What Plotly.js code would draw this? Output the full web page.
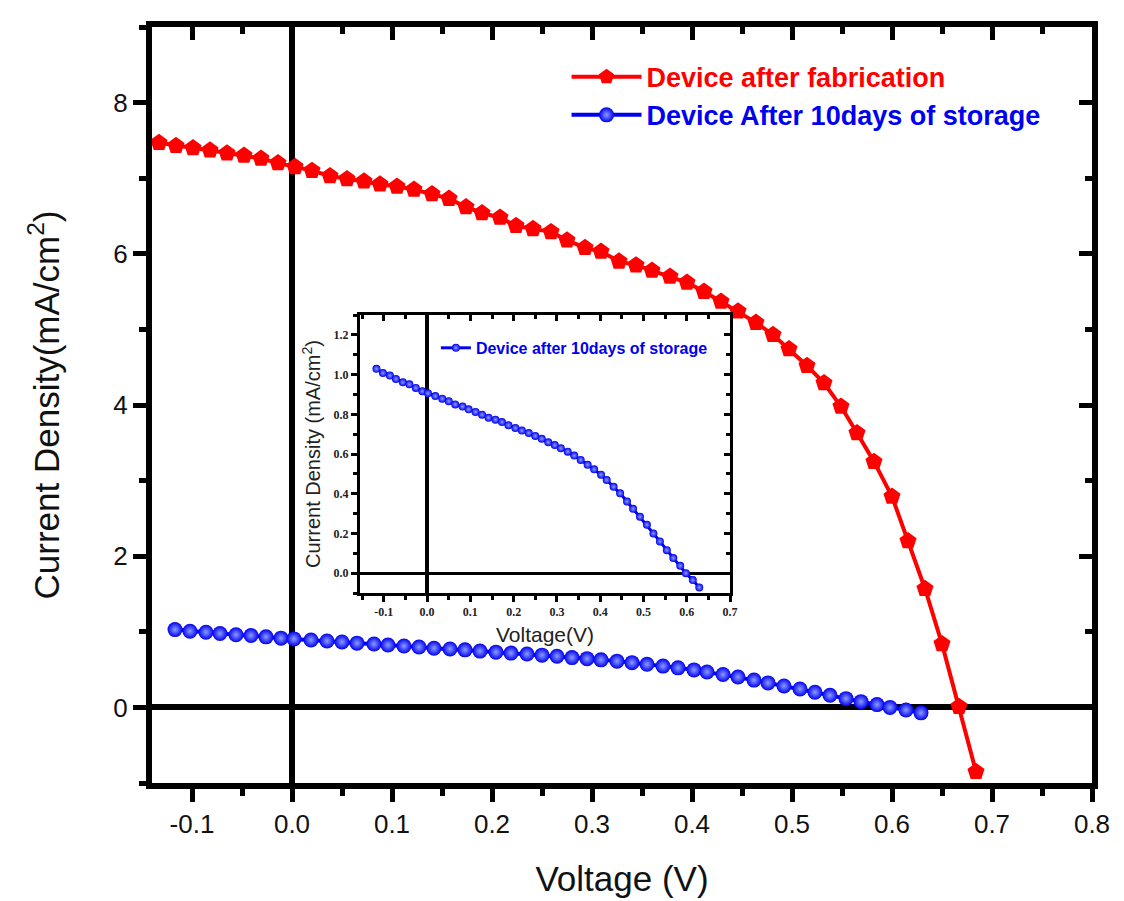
<!DOCTYPE html>
<html>
<head>
<meta charset="utf-8">
<script src="https://cdn.plot.ly/plotly-3.0.1.min.js"></script>
<style>html,body{margin:0;padding:0;background:#fff;}#chart{width:1124px;height:901px;}</style>
</head>
<body>
<div id="chart"></div>
<script>
// Device after fabrication (main plot, red pentagons)
const freshVoltage = [-0.133,-0.116,-0.099,-0.082,-0.065,-0.048,-0.031,-0.014,0.003,0.020,
  0.038,0.055,0.072,0.088,0.105,0.122,0.140,0.157,0.174,0.190,
  0.208,0.224,0.241,0.259,0.275,0.293,0.309,0.327,0.344,0.360,
  0.378,0.395,0.412,0.429,0.446,0.464,0.481,0.497,0.515,0.532,
  0.549,0.565,0.582,0.600,0.616,0.633,0.650,0.667,0.684];
const freshCurrent = [7.47,7.43,7.40,7.37,7.33,7.30,7.26,7.20,7.15,7.10,
  7.03,6.99,6.96,6.92,6.89,6.85,6.79,6.73,6.62,6.54,
  6.48,6.37,6.33,6.29,6.18,6.08,6.03,5.90,5.85,5.78,
  5.70,5.62,5.50,5.37,5.24,5.09,4.93,4.74,4.52,4.29,
  3.98,3.63,3.25,2.79,2.20,1.57,0.84,0.01,-0.85];

// Device after 10 days of storage (blue spheres, main plot and inset)
const storedVoltage = [-0.117,-0.102,-0.086,-0.072,-0.056,-0.041,-0.026,-0.011,0.002,0.019,
  0.035,0.050,0.065,0.082,0.096,0.112,0.127,0.142,0.158,0.173,
  0.188,0.204,0.219,0.235,0.250,0.265,0.280,0.295,0.309,0.325,
  0.340,0.355,0.371,0.386,0.402,0.415,0.431,0.446,0.462,0.476,
  0.492,0.508,0.523,0.538,0.554,0.569,0.585,0.598,0.614,0.629];
const storedCurrent = [1.029,1.008,0.995,0.978,0.961,0.951,0.933,0.916,0.906,0.892,
  0.879,0.866,0.850,0.839,0.825,0.812,0.798,0.783,0.773,0.761,
  0.745,0.731,0.718,0.706,0.691,0.677,0.659,0.645,0.629,0.612,
  0.592,0.570,0.546,0.523,0.496,0.469,0.435,0.402,0.361,0.324,
  0.284,0.244,0.200,0.160,0.116,0.076,0.037,0.000,-0.035,-0.072];

const seriesNames = ['Device after fabrication', 'Device After 10days of storage', 'Device after 10days of storage'];
const mainXTicks = [-0.1,0.0,0.1,0.2,0.3,0.4,0.5,0.6,0.7,0.8];
const mainXLabels = ['-0.1','0.0','0.1','0.2','0.3','0.4','0.5','0.6','0.7','0.8'];
const mainYTicks = [0,2,4,6,8];
const mainYLabels = ['0','2','4','6','8'];
const insetXTicks = [-0.1,0.0,0.1,0.2,0.3,0.4,0.5,0.6,0.7];
const insetXLabels = ['-0.1','0.0','0.1','0.2','0.3','0.4','0.5','0.6','0.7'];
const insetYTicks = [0.0,0.2,0.4,0.6,0.8,1.0,1.2];
const insetYLabels = ['0.0','0.2','0.4','0.6','0.8','1.0','1.2'];

const RED = '#ff0000', BLUE = '#0000f0';
const SANS = 'Liberation Sans, Arial, sans-serif';
const SERIF = 'Liberation Serif, Times New Roman, serif';

const traces = [
  {x: freshVoltage, y: freshCurrent, type:'scatter', mode:'lines+markers',
   name:'<span style="color:'+RED+'">'+seriesNames[0]+'</span>',
   line:{color:RED, width:4},
   marker:{symbol:'pentagon', size:18, color:RED, line:{width:0}},
   xaxis:'x', yaxis:'y', legend:'legend', hoverinfo:'x+y'},
  {x: storedVoltage, y: storedCurrent, type:'scatter', mode:'lines+markers',
   name:'<span style="color:'+BLUE+'">'+seriesNames[1]+'</span>',
   line:{color:BLUE, width:4},
   marker:{symbol:'circle', size:15, color:BLUE, line:{width:0},
           gradient:{type:'radial', color:'#8c9cff'}},
   xaxis:'x', yaxis:'y', legend:'legend', hoverinfo:'x+y'},
  {x: storedVoltage, y: storedCurrent, type:'scatter', mode:'lines+markers',
   name: seriesNames[2],
   line:{color:BLUE, width:3},
   marker:{symbol:'circle', size:8, color:BLUE, line:{width:0},
           gradient:{type:'radial', color:'#8c9cff'}},
   xaxis:'x3', yaxis:'y3', legend:'legend2', hoverinfo:'x+y'},
  // carriers for the mirrored (inward-tick) frame axes
  {x:[null], y:[null], type:'scatter', mode:'markers', xaxis:'x2', yaxis:'y2', showlegend:false, hoverinfo:'skip'},
  {x:[null], y:[null], type:'scatter', mode:'markers', xaxis:'x4', yaxis:'y4', showlegend:false, hoverinfo:'skip'}
];

const mainX = {range:[-0.14,0.8], tickmode:'array', tickvals: mainXTicks, ticktext: mainXLabels};
const mainY = {range:[-1,9], tickmode:'array', tickvals: mainYTicks, ticktext: mainYLabels};
const insX = {range:[-0.155,0.7], tickmode:'array', tickvals: insetXTicks, ticktext: insetXLabels};
const insY = {range:[-0.1,1.3], tickmode:'array', tickvals: insetYTicks, ticktext: insetYLabels};

function frameAxis(base, o) {
  return Object.assign({
    showgrid:false, showline:true, linecolor:'#000', tickcolor:'#000',
    fixedrange:true, automargin:false
  }, base, o);
}

const layout = {
  width:1124, height:901,
  paper_bgcolor:'#ffffff', plot_bgcolor:'#ffffff',
  margin:{l:152, r:32, t:27, b:118},
  font:{family:SANS, color:'#000'},
  showlegend:true,
  xaxis: frameAxis(mainX, {
    domain:[0,1], anchor:'y', side:'bottom',
    linewidth:6, ticks:'outside', ticklen:13, tickwidth:5,
    minor:{ticks:'outside', ticklen:7, tickwidth:5, tickcolor:'#000', dtick:0.05, tick0:0, showgrid:false},
    zeroline:true, zerolinecolor:'#000', zerolinewidth:6,
    tickfont:{size:26, color:'#111'},
    title:{text:'Voltage (V)', font:{size:35, color:'#111'}, standoff:30}
  }),
  yaxis: frameAxis(mainY, {
    domain:[0,1], anchor:'x', side:'left',
    linewidth:6, ticks:'outside', ticklen:13, tickwidth:5,
    minor:{ticks:'outside', ticklen:7, tickwidth:5, tickcolor:'#000', dtick:1, tick0:0, showgrid:false},
    zeroline:true, zerolinecolor:'#000', zerolinewidth:6,
    tickfont:{size:26, color:'#111'},
    title:{text:'Current Density(mA/cm<sup>2</sup>)', font:{size:35, color:'#111'}, standoff:45}
  }),
  xaxis2: frameAxis(mainX, {
    overlaying:'x', anchor:'y2', side:'top',
    linewidth:6, ticks:'inside', ticklen:13, tickwidth:5,
    minor:{ticks:'inside', ticklen:7, tickwidth:5, tickcolor:'#000', dtick:0.05, tick0:0, showgrid:false},
    showticklabels:false, zeroline:false
  }),
  yaxis2: frameAxis(mainY, {
    overlaying:'y', anchor:'x2', side:'right',
    linewidth:6, ticks:'inside', ticklen:13, tickwidth:5,
    minor:{ticks:'inside', ticklen:7, tickwidth:5, tickcolor:'#000', dtick:1, tick0:0, showgrid:false},
    showticklabels:false, zeroline:false
  }),
  xaxis3: frameAxis(insX, {
    domain:[0.2213,0.6149], anchor:'y3', side:'bottom',
    linewidth:3, ticks:'outside', ticklen:6, tickwidth:3,
    minor:{ticks:'outside', ticklen:4, tickwidth:3, tickcolor:'#000', dtick:0.05, tick0:0, showgrid:false},
    zeroline:true, zerolinecolor:'#000', zerolinewidth:4,
    tickfont:{family:SERIF, size:12, weight:'bold', color:'#222'},
    title:{text:'Voltage(V)', font:{size:21, color:'#222'}, standoff:9}
  }),
  yaxis3: frameAxis(insY, {
    domain:[0.2513,0.619], anchor:'x3', side:'left',
    linewidth:3, ticks:'outside', ticklen:6, tickwidth:3,
    minor:{ticks:'outside', ticklen:4, tickwidth:3, tickcolor:'#000', dtick:0.1, tick0:0, showgrid:false},
    zeroline:true, zerolinecolor:'#000', zerolinewidth:3,
    tickfont:{family:SERIF, size:12, weight:'bold', color:'#222'},
    title:{text:'Current Density (mA/cm<sup>2</sup>)', font:{size:20, color:'#222'}, standoff:8}
  }),
  xaxis4: frameAxis(insX, {
    overlaying:'x3', anchor:'y4', side:'top',
    linewidth:3, ticks:'inside', ticklen:6, tickwidth:3,
    minor:{ticks:'inside', ticklen:4, tickwidth:3, tickcolor:'#000', dtick:0.05, tick0:0, showgrid:false},
    showticklabels:false, zeroline:false
  }),
  yaxis4: frameAxis(insY, {
    overlaying:'y3', anchor:'x4', side:'right',
    linewidth:3, ticks:'inside', ticklen:6, tickwidth:3,
    minor:{ticks:'inside', ticklen:4, tickwidth:3, tickcolor:'#000', dtick:0.1, tick0:0, showgrid:false},
    showticklabels:false, zeroline:false
  }),
  legend: {
    x:0.441, y:0.966, xanchor:'left', yanchor:'top',
    bgcolor:'rgba(0,0,0,0)', borderwidth:0,
    font:{family:SANS, size:27, weight:'bold'},
    itemwidth:70, tracegroupgap:0
  },
  legend2: {
    x:0.302, y:0.598, xanchor:'left', yanchor:'top',
    bgcolor:'rgba(0,0,0,0)', borderwidth:0,
    font:{family:SANS, size:16, weight:'bold', color:BLUE}
  }
};

Plotly.newPlot('chart', traces, layout, {displayModeBar:false, staticPlot:true});
</script>
</body>
</html>
